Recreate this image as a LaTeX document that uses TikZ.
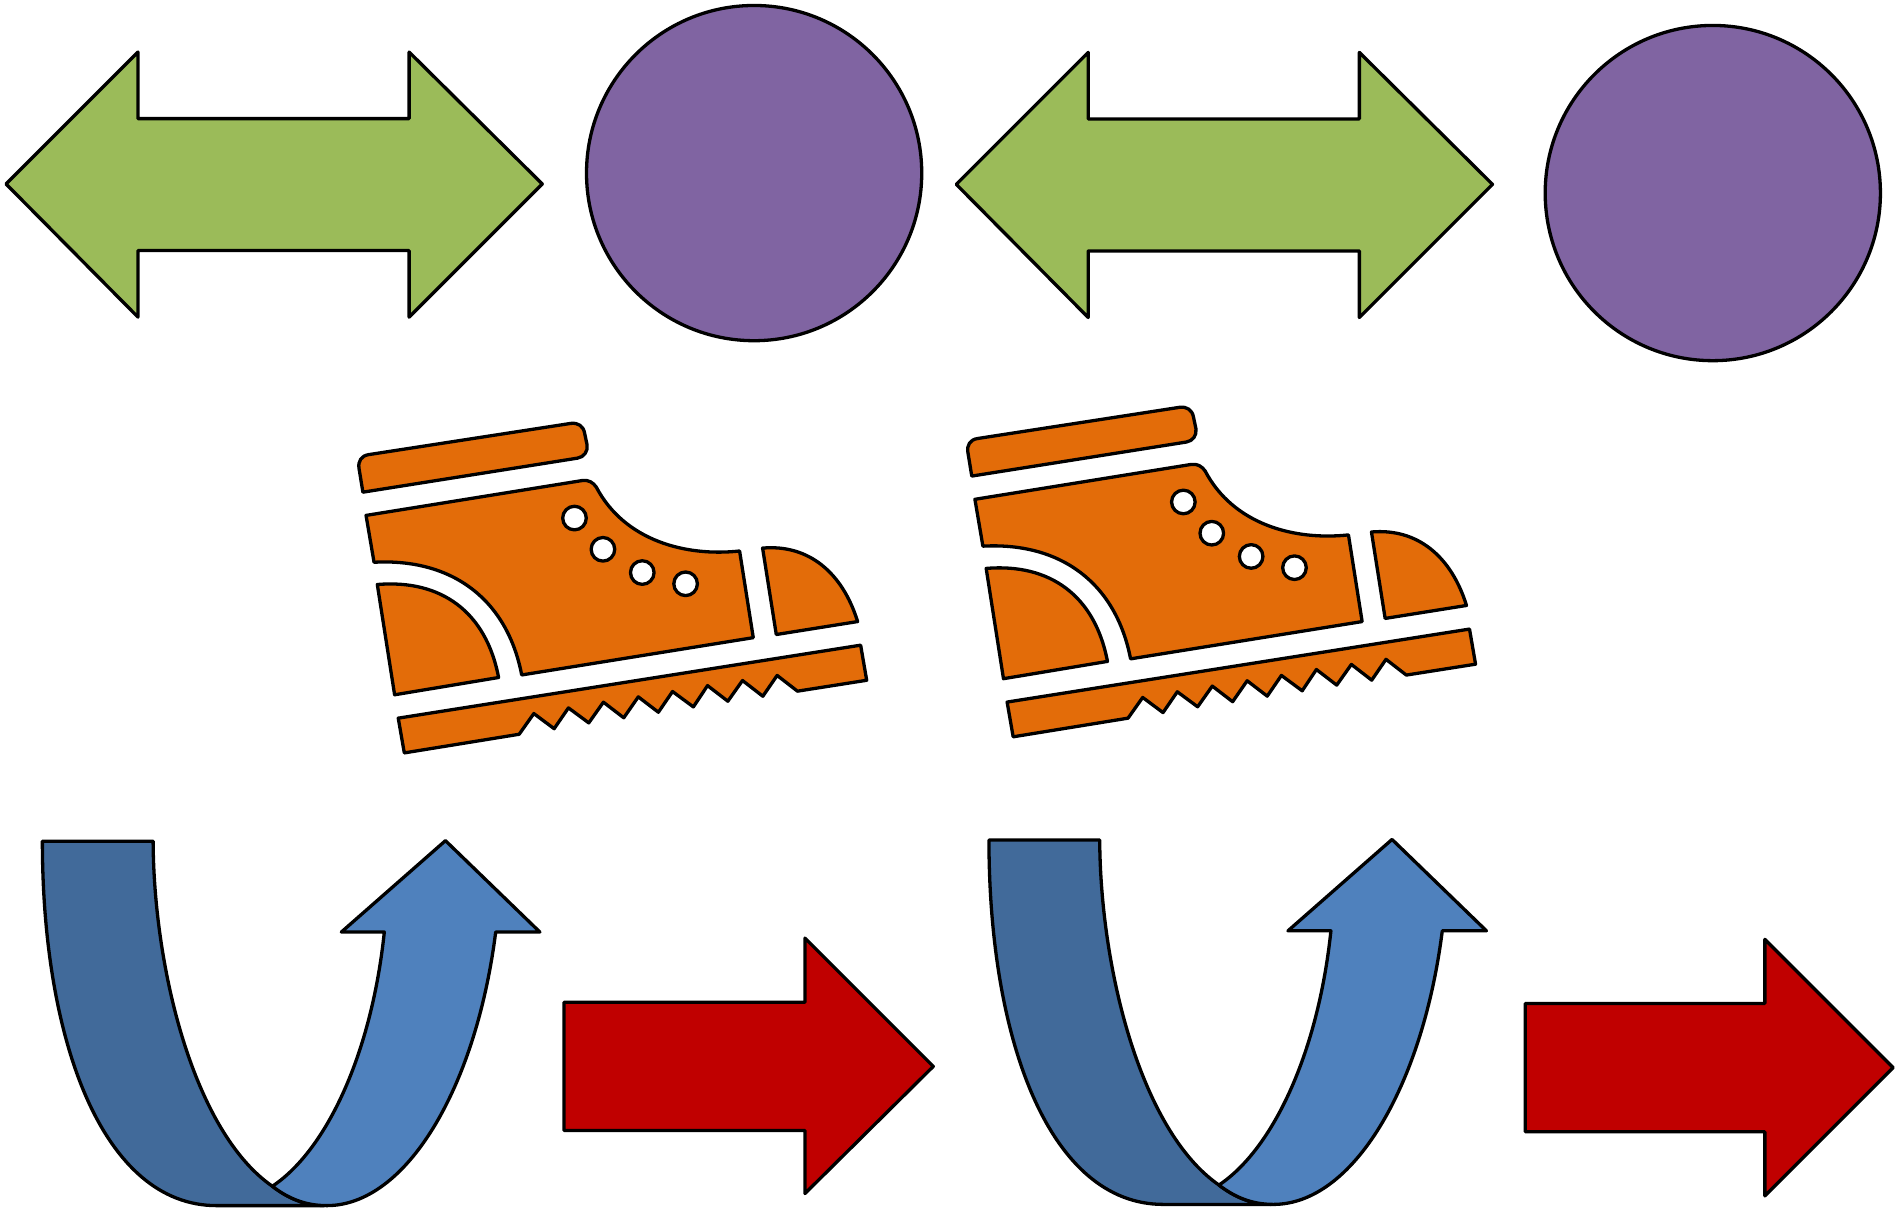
\documentclass[tikz,border=0pt]{standalone}
\definecolor{cgreen}{HTML}{9BBB59}
\definecolor{cpurple}{HTML}{8064A2}
\definecolor{corange}{HTML}{E36C09}
\definecolor{cblue}{HTML}{4F81BD}
\definecolor{cdark}{HTML}{416A9A}
\definecolor{cred}{HTML}{C00000}
\tikzset{
  shp/.style={draw=black,line width=1.55pt,line join=round},
  greenshape/.style={shp,fill=cgreen},
  purpleshape/.style={shp,fill=cpurple},
  orangeshape/.style={shp,fill=corange},
  blueshape/.style={shp,fill=cblue},
  darkshape/.style={shp,fill=cdark},
  redshape/.style={shp,fill=cred},
  holeshape/.style={shp,fill=white},
  doublearrow/.pic={
    \path[greenshape] (5,152) -- (114,43) -- (114,98) -- (338,98) -- (338,43) -- (448,152)
      -- (338,262) -- (338,207) -- (114,207) -- (114,262) -- cycle;
  },
  boot/.pic={
    % strap
    \path[orangeshape] (299.8,406.6) -- (296.6,387) .. controls (295.6,381) and (298.5,376.5) .. (304.5,375.6)
      -- (471.5,349.8) .. controls (477.5,349) and (482,352) .. (483,358)
      -- (485,367.5) .. controls (485.8,373) and (482.5,377.6) .. (477,378.5) -- cycle;
    % upper
    \path[orangeshape] (302.4,425.8) -- (481,397) .. controls (486,396.2) and (490,398.5) .. (492.6,402.4)
      .. controls (516,447) and (567,460) .. (611,455.2)
      -- (622.3,526.8) -- (431,557.6)
      .. controls (419,495.6) and (374,461) .. (309,464.5) -- cycle;
    % eyelets
    \path[holeshape] (474.6,428) circle [radius=0.195cm];
    \path[holeshape] (498.1,453.8) circle [radius=0.195cm];
    \path[holeshape] (530.6,473) circle [radius=0.195cm];
    \path[holeshape] (566.4,482.3) circle [radius=0.195cm];
    % heel
    \path[orangeshape] (311.7,482.9) .. controls (364,478.5) and (401.5,505) .. (411.9,559.7)
      -- (326,574) -- cycle;
    % toe
    \path[orangeshape] (630,452.8) .. controls (668,449.5) and (696,473) .. (708.5,513.5)
      -- (641.3,524.2) -- cycle;
    % sole
    \path[orangeshape] (329,593.3) -- (711,533) -- (716,562) -- (658.8,571) -- (642,558)
      -- (630.2,575.2) -- (613.4,562.2) -- (601.3,579.3) -- (584.5,566.4) -- (572.8,584)
      -- (555.6,571.3) -- (543.9,588.4) -- (527.3,575.7) -- (515.3,593) -- (498.5,580.1)
      -- (486.4,597.2) -- (469.6,584.8) -- (457.8,602) -- (441,589.5) -- (428.9,606.6)
      -- (334,622) -- cycle;
  },
  uarrow/.pic={
    \path[darkshape] (35,695) -- (126.5,695) .. controls (127,800) and (160,935) .. (225,980)
      .. controls (238,990) and (252,996) .. (268,996) -- (179,996)
      .. controls (85,996) and (35,860) .. (35,695) -- cycle;
    \path[blueshape] (225,980) .. controls (270,950) and (307,870) .. (317.5,770) -- (282,770)
      -- (368,694.5) -- (446,770) -- (409.5,770)
      .. controls (393,900) and (335,996) .. (270,996)
      .. controls (252,996) and (238,990) .. (225,980) -- cycle;
  }
}
\begin{document}
\begin{tikzpicture}[x=0.02cm,y=-0.02cm]
\useasboundingbox (0,0) rectangle (1568,999.6);
% double arrows
\pic at (0,0) {doublearrow};
\pic at (785,0.3) {doublearrow};
% circles
\path[purpleshape] (623,143) circle [radius=2.77cm];
\path[purpleshape] (1415,159.5) circle [radius=2.77cm];
% boots
\pic at (0,0) {boot};
\pic at (503,-13.3) {boot};
% curved arrows
\pic at (0,0) {uarrow};
\pic at (782,-1) {uarrow};
% red arrows
\path[redshape] (466,828) -- (665,828) -- (665,775) -- (771,881) -- (665,986) -- (665,934) -- (466,934) -- cycle;
\path[redshape] (1260,829) -- (1458,829) -- (1458,776) -- (1564,882) -- (1458,988) -- (1458,935) -- (1260,935) -- cycle;
\end{tikzpicture}
\end{document}
